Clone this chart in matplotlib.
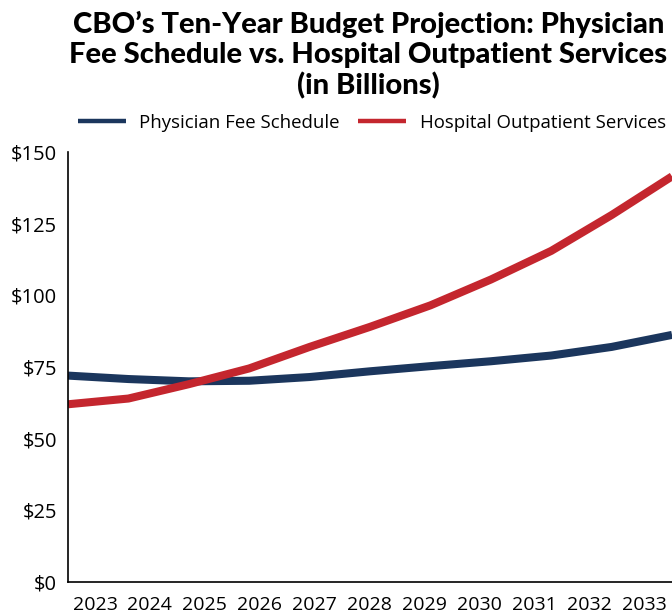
import numpy as np
import matplotlib
matplotlib.use("Agg")
import matplotlib.pyplot as plt

# values (billions of dollars)
years = ["2023", "2024", "2025", "2026", "2027", "2028", "2029", "2030", "2031", "2032", "2033"]
physician_fee = [72, 70.8, 70, 70.2, 71.5, 73.5, 75.3, 77, 79, 82, 86.2]
hospital_outpatient = [62, 64, 69, 74.5, 82, 89, 96.5, 105.5, 115.5, 128, 141.5]
y_ticks = [0, 25, 50, 75, 100, 125, 150]

BLUE = "#1b365d"
RED = "#c4262e"

plt.rcParams["font.family"] = ["Open Sans", "DejaVu Sans"]

fig = plt.figure(figsize=(6.72, 6.14), dpi=100)
ax = fig.add_axes([68 / 672, 32 / 614, 604 / 672, 430 / 614])

x = np.arange(len(years))
ax.plot(x, physician_fee, color=BLUE, lw=5.8, label="Physician Fee Schedule", solid_capstyle="butt")
ax.plot(x, hospital_outpatient, color=RED, lw=5.8, label="Hospital Outpatient Services", solid_capstyle="butt")

ax.set_xlim(0, len(years) - 1)
ax.set_ylim(0, 150)

# year labels sit on a slightly narrower grid than the data points
label_pos = 0.447 + np.arange(len(years)) * (54.9 / 60.4)
ax.set_xticks(label_pos)
ax.set_xticklabels(years, fontsize=14)
ax.set_yticks(y_ticks)
ax.set_yticklabels([f"${v}" for v in y_ticks], fontsize=14.5)
ax.tick_params(length=0, pad=8)
ax.tick_params(axis="x", pad=10)

for s in ["top", "right"]:
    ax.spines[s].set_visible(False)
for s in ["left", "bottom"]:
    ax.spines[s].set_linewidth(1.2)
    ax.spines[s].set_color("black")

fig.text(0.548, 0.983, "CBO\u2019s Ten-Year Budget Projection: Physician\nFee Schedule vs. Hospital Outpatient Services\n(in Billions)",
         ha="center", va="top", fontsize=21, fontweight=900, linespacing=1.2,
         family=["Lato", "DejaVu Sans"])

leg = fig.legend(loc="center", bbox_to_anchor=(0.553, 0.800), ncol=2, frameon=False,
                 fontsize=13.4, handlelength=2.6, handletextpad=0.7, columnspacing=1.0)
for line in leg.get_lines():
    line.set_linewidth(3.2)

fig.savefig("out.png", dpi=100)
